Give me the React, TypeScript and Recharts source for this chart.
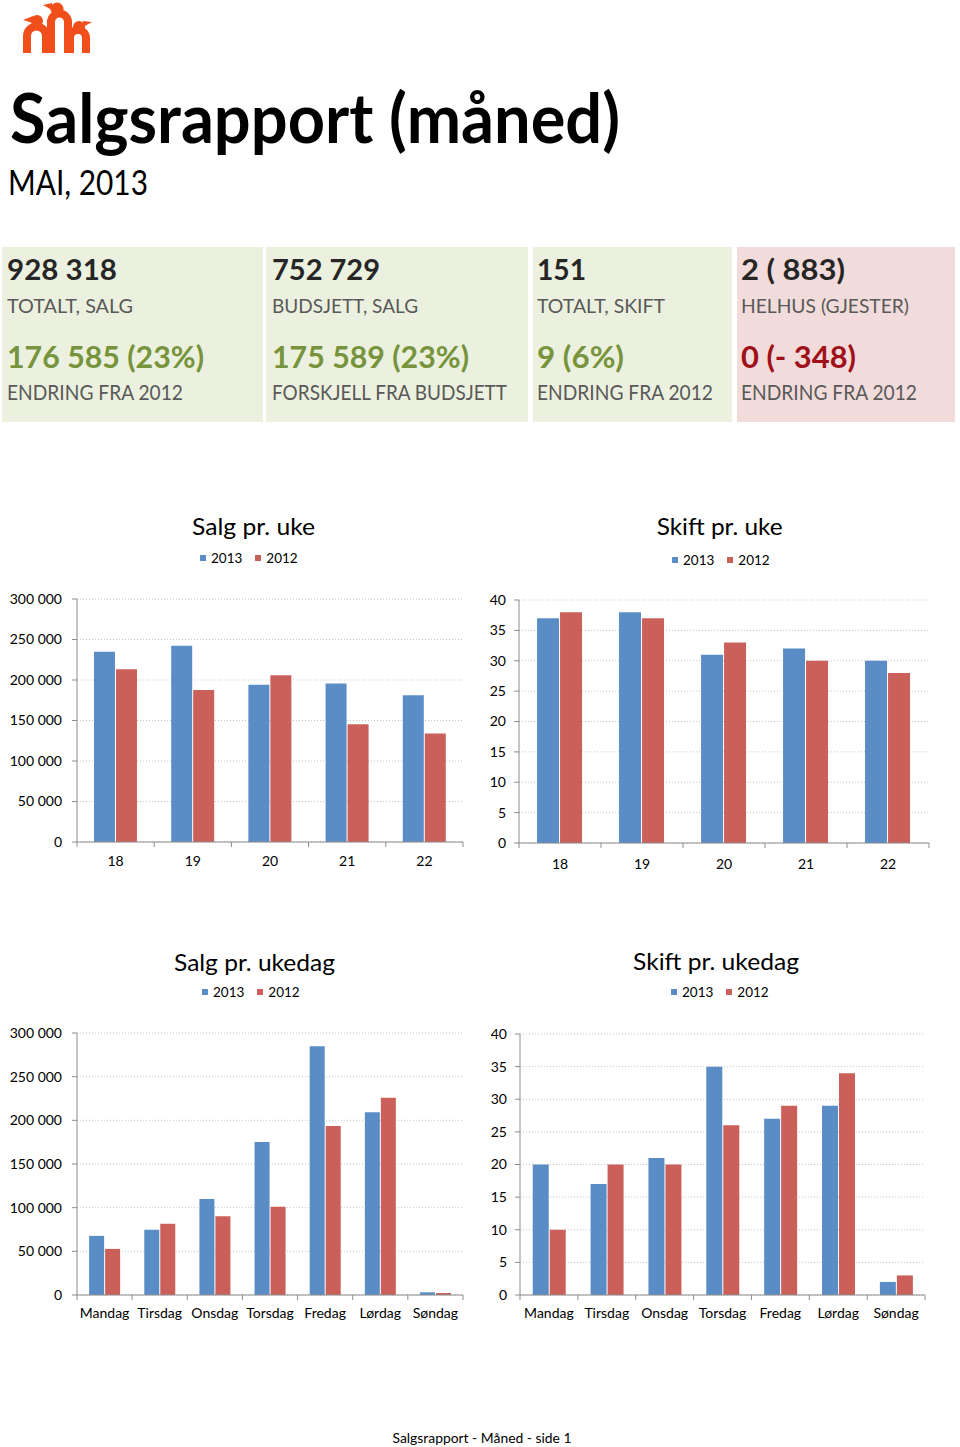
import React from 'react';
import { BarChart, Bar, XAxis, YAxis, CartesianGrid, Legend } from 'recharts';

// ---------- data ----------
const seriesNames = ['2013', '2012'];

const weeks = ['18', '19', '20', '21', '22'];
const salesWeek2013 = [234800, 242200, 194000, 195600, 181200];
const salesWeek2012 = [213300, 187800, 205900, 145300, 134100];
const shiftsWeek2013 = [37, 38, 31, 32, 30];
const shiftsWeek2012 = [38, 37, 33, 30, 28];

const weekdays = ['Mandag', 'Tirsdag', 'Onsdag', 'Torsdag', 'Fredag', 'Lørdag', 'Søndag'];
const salesDay2013 = [67700, 74600, 109800, 175300, 284700, 209300, 3100];
const salesDay2012 = [52800, 81500, 90300, 101000, 193600, 225800, 2300];
const shiftsDay2013 = [20, 17, 21, 35, 27, 29, 2];
const shiftsDay2012 = [10, 20, 20, 26, 29, 34, 3];

const salesTicks = [0, 50000, 100000, 150000, 200000, 250000, 300000];
const shiftTicks = [0, 5, 10, 15, 20, 25, 30, 35, 40];

const kpiValues = ['928 318', '752 729', '151', '2 ( 883)'];
const kpiLabels = ['TOTALT, SALG', 'BUDSJETT, SALG', 'TOTALT, SKIFT', 'HELHUS (GJESTER)'];
const kpiChanges = ['176 585 (23%)', '175 589 (23%)', '9 (6%)', '0 (- 348)'];
const kpiChangeLabels = ['ENDRING FRA 2012', 'FORSKJELL FRA BUDSJETT', 'ENDRING FRA 2012', 'ENDRING FRA 2012'];
const kpiPositive = [true, true, true, false];

const chartTitles = ['Salg pr. uke', 'Skift pr. uke', 'Salg pr. ukedag', 'Skift pr. ukedag'];
const pageTitle = 'Salgsrapport (måned)';
const pageSubtitle = 'MAI, 2013';
const footerText = 'Salgsrapport - Måned - side 1';

// ---------- styles ----------
const FONT = 'Lato, "Open Sans", sans-serif';
const BLUE = '#5A8DC6';
const RED = '#CB605A';
const AXIS = '#8C8C8C';
const GRID = '#C4C4C4';
const ORANGE = '#F04E1A';
const TICK_FS = 14;

const fmtThousands = (v: number) => String(v).replace(/\B(?=(\d{3})+(?!\d))/g, ' ');

const build = (cats: string[], a: number[], b: number[]) =>
  cats.map((c, i) => ({ cat: c, y2013: a[i], y2012: b[i] }));

function makeTick(n: number, tickSize: number, tickMargin: number) {
  return (props: any) => {
    const { x, y, payload, index } = props;
    const off = payload && typeof payload.offset === 'number' ? payload.offset : 0;
    const ay = y - tickSize - tickMargin;
    return (
      <g>
        <line x1={x - off} x2={x - off} y1={ay} y2={ay + tickSize} stroke={AXIS} />
        {index === n - 1 && <line x1={x + off} x2={x + off} y1={ay} y2={ay + tickSize} stroke={AXIS} />}
        <text x={x} y={y} dy="0.71em" textAnchor="middle" fontSize={TICK_FS} fill="#000" fontFamily={FONT}>
          {payload.value}
        </text>
      </g>
    );
  };
}

const LegendContent = (props: any) => {
  const payload = [...(props.payload || [])].sort(
    (a: any, b: any) => seriesNames.indexOf(String(a.value)) - seriesNames.indexOf(String(b.value))
  );
  return (
    <div style={{ display: 'flex', alignItems: 'center', fontSize: 13.5, lineHeight: '16px', color: '#000', fontFamily: FONT, whiteSpace: 'nowrap' }}>
      {payload.map((p: any, i: number) => (
        <span key={i} style={{ display: 'flex', alignItems: 'center', marginRight: 13 }}>
          <span style={{ display: 'inline-block', width: 6, height: 6, background: p.color, marginRight: 5 }} />
          {p.value}
        </span>
      ))}
    </div>
  );
};

type ChartProps = {
  left: number; top: number; width: number; height: number;
  margin: { top: number; right: number; bottom: number; left: number };
  yWidth: number; yTickMargin: number; xTickMargin: number;
  data: any[]; domainMax: number; ticks: number[]; fmt?: (v: number) => string;
  legendTop: number; legendLeft: number; n: number;
};

function GroupedBars(p: ChartProps) {
  return (
    <div style={{ position: 'absolute', left: p.left, top: p.top }}>
      <BarChart width={p.width} height={p.height} data={p.data} margin={p.margin} barCategoryGap="22%" barGap={1}>
        <CartesianGrid vertical={false} stroke={GRID} strokeDasharray="1 2" />
        <XAxis
          dataKey="cat"
          height={30}
          tickSize={5}
          tickMargin={p.xTickMargin}
          tickLine={false}
          axisLine={{ stroke: AXIS }}
          interval={0}
          tick={makeTick(p.n, 5, p.xTickMargin)}
        />
        <YAxis
          width={p.yWidth}
          domain={[0, p.domainMax]}
          ticks={p.ticks}
          interval={0}
          tickSize={5}
          tickMargin={p.yTickMargin}
          tickFormatter={p.fmt}
          axisLine={{ stroke: AXIS }}
          tickLine={{ stroke: AXIS }}
          tick={{ fontSize: TICK_FS, fill: '#000', fontFamily: FONT }}
        />
        <Legend
          verticalAlign="middle"
          align="center"
          layout="horizontal"
          wrapperStyle={{ top: p.legendTop, left: p.legendLeft, width: 'auto' }}
          content={LegendContent}
        />
        <Bar dataKey="y2013" name={seriesNames[0]} fill={BLUE} isAnimationActive={false} />
        <Bar dataKey="y2012" name={seriesNames[1]} fill={RED} isAnimationActive={false} />
      </BarChart>
    </div>
  );
}

const boxX = [2, 266, 533, 737];
const boxW = [261, 262, 199, 218];
const textX = [7, 272, 537, 741];
const valueW = [110, 108, 49, 104];
const labelW = [126, 146, 128, 168];
const changeW = [197, 197, 87, 115];
const changeLabelW = [176, 235, 176, 176];

function Txt(props: any) {
  const { x, y, fs, w, weight, color, anchor, children } = props;
  return (
    <text
      x={x}
      y={y}
      fontSize={fs}
      fontWeight={weight || 400}
      fill={color || '#000'}
      textAnchor={anchor || 'start'}
      textLength={w}
      lengthAdjust="spacingAndGlyphs"
      fontFamily={FONT}
    >
      {children}
    </text>
  );
}

function Logo() {
  return (
    <g>
      <g fill="none" stroke={ORANGE} strokeWidth={8}>
        <path d="M27 53 V36 A9.5 9.5 0 0 1 46 36 V53" />
        <path d="M51 53 V22 A8.5 8.5 0 0 1 68 22 V53" />
        <path d="M70 53 V38 A8 8 0 0 1 86 38 V53" />
      </g>
      <g fill={ORANGE}>
        <circle cx={37} cy={21} r={6} />
        <polygon points="23,20 33,16 33,23" />
        <circle cx={57} cy={9} r={6.5} />
        <polygon points="43,5 52,3 52,10" />
        <circle cx={79} cy={27} r={6} />
        <polygon points="92,22 83,21 83,27" />
      </g>
    </g>
  );
}

export default function App() {
  return (
    <div style={{ position: 'absolute', left: 0, top: 0, width: 960, height: 1447, background: '#fff', fontFamily: FONT, overflow: 'hidden' }}>
      <svg width={960} height={1447} style={{ position: 'absolute', left: 0, top: 0 }}>
        <Logo />
        <Txt x={10} y={143} fs={69} w={610} weight={700}>{pageTitle}</Txt>
        <Txt x={8} y={195} fs={35} w={140}>{pageSubtitle}</Txt>
        {kpiValues.map((v, i) => (
          <g key={i}>
            <rect x={boxX[i]} y={247} width={boxW[i]} height={175} fill={kpiPositive[i] ? '#EBF1DE' : '#F2DCDB'} />
            <Txt x={textX[i]} y={280} fs={28} w={valueW[i]} weight={700} color="#262626">{v}</Txt>
            <Txt x={textX[i]} y={313} fs={20} w={labelW[i]} color="#595959">{kpiLabels[i]}</Txt>
            <Txt x={textX[i]} y={368} fs={30} w={changeW[i]} weight={700} color={kpiPositive[i] ? '#77933C' : '#A0101A'}>{kpiChanges[i]}</Txt>
            <Txt x={textX[i]} y={399.5} fs={21} w={changeLabelW[i]} color="#595959">{kpiChangeLabels[i]}</Txt>
          </g>
        ))}
        <Txt x={253.5} y={535} fs={24} w={123} anchor="middle">{chartTitles[0]}</Txt>
        <Txt x={719.7} y={535} fs={24} w={126} anchor="middle">{chartTitles[1]}</Txt>
        <Txt x={254.5} y={971} fs={24} w={161} anchor="middle">{chartTitles[2]}</Txt>
        <Txt x={716} y={970} fs={24} w={166} anchor="middle">{chartTitles[3]}</Txt>
        <Txt x={482} y={1443} fs={14} w={179} anchor="middle">{footerText}</Txt>
      </svg>

      <GroupedBars
        left={0} top={500} width={480} height={380}
        margin={{ top: 99, right: 17, bottom: 8, left: 0 }}
        yWidth={77} yTickMargin={10} xTickMargin={9}
        data={build(weeks, salesWeek2013, salesWeek2012)}
        domainMax={300000} ticks={salesTicks} fmt={fmtThousands}
        legendTop={50} legendLeft={200} n={weeks.length}
      />
      <GroupedBars
        left={480} top={500} width={480} height={380}
        margin={{ top: 100, right: 31, bottom: 7, left: 0 }}
        yWidth={39} yTickMargin={8} xTickMargin={11}
        data={build(weeks, shiftsWeek2013, shiftsWeek2012)}
        domainMax={40} ticks={shiftTicks}
        legendTop={52} legendLeft={192} n={weeks.length}
      />
      <GroupedBars
        left={0} top={930} width={480} height={400}
        margin={{ top: 103, right: 17, bottom: 5, left: 0 }}
        yWidth={77} yTickMargin={10} xTickMargin={8}
        data={build(weekdays, salesDay2013, salesDay2012)}
        domainMax={300000} ticks={salesTicks} fmt={fmtThousands}
        legendTop={54} legendLeft={202} n={weekdays.length}
      />
      <GroupedBars
        left={480} top={930} width={480} height={400}
        margin={{ top: 104, right: 35, bottom: 5, left: 0 }}
        yWidth={40} yTickMargin={8} xTickMargin={8}
        data={build(weekdays, shiftsDay2013, shiftsDay2012)}
        domainMax={40} ticks={shiftTicks}
        legendTop={54} legendLeft={191} n={weekdays.length}
      />
    </div>
  );
}
